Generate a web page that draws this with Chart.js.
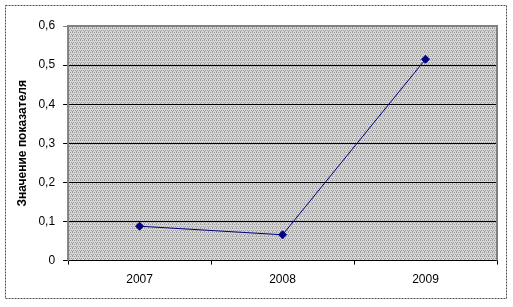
<!DOCTYPE html>
<html>
<head>
<meta charset="utf-8">
<script src="https://cdn.jsdelivr.net/npm/chart.js@4"></script>
<style>
  html, body { margin: 0; padding: 0; background: #fff; }
  #wrap { width: 513px; height: 307px; }
</style>
</head>
<body>
<div id="wrap"><canvas id="chart" width="513" height="307"></canvas></div>
<script>
/* ── data ── */
const years  = ['2007', '2008', '2009'];
const values = [0.088, 0.066, 0.515];
const yTicks = { min: 0, max: 0.6, step: 0.1 };

/* ── dotted gray fill like the Excel plot area ── */
function makePattern() {
  const c = document.createElement('canvas');
  c.width = 4; c.height = 4;
  const g = c.getContext('2d');
  g.fillStyle = '#d6d6d6';
  g.fillRect(0, 0, 4, 4);
  g.fillStyle = '#9c9c9c';
  g.fillRect(0, 0, 1, 1);
  g.fillRect(2, 0, 1, 1);
  g.fillRect(1, 2, 1, 1);
  g.fillRect(3, 2, 1, 1);
  g.fillRect(0, 3, 1, 1);
  return g.createPattern(c, 'repeat');
}

const frame = {
  id: 'frame',
  beforeDraw(chart) {
    const { ctx, chartArea: a } = chart;
    ctx.save();
    ctx.fillStyle = '#fff';
    ctx.fillRect(0, 0, chart.width, chart.height);
    ctx.strokeStyle = '#505050';
    ctx.lineWidth = 1;
    ctx.setLineDash([2, 1]);
    ctx.strokeRect(5.5, 5.5, 501, 293);
    ctx.setLineDash([]);
    ctx.fillStyle = makePattern();
    ctx.fillRect(a.left, a.top, a.right - a.left, a.bottom - a.top);
    ctx.restore();
  },
  afterDraw(chart) {
    const { ctx, chartArea: a } = chart;
    ctx.save();
    ctx.strokeStyle = '#808080';
    ctx.lineWidth = 2;
    ctx.beginPath();
    ctx.moveTo(a.left, a.bottom);
    ctx.lineTo(a.left, a.top);
    ctx.lineTo(a.right, a.top);
    ctx.lineTo(a.right, a.bottom);
    ctx.stroke();
    ctx.restore();
  }
};

Chart.defaults.font.family = "'Liberation Sans', Arial, sans-serif";
Chart.defaults.font.size = 12;
Chart.defaults.color = '#000';

new Chart(document.getElementById('chart'), {
  type: 'line',
  data: {
    labels: years,
    datasets: [{
      data: values,
      borderColor: '#000080',
      backgroundColor: '#000080',
      borderWidth: 1,
      pointStyle: 'rectRot',
      pointRadius: 4,
      pointHoverRadius: 4,
      tension: 0,
    }],
  },
  options: {
    responsive: false,
    animation: false,
    layout: { padding: { top: 26, right: 16, bottom: 12, left: 15 } },
    plugins: { legend: { display: false }, tooltip: { enabled: false } },
    scales: {
      x: {
        offset: true,
        grid: { offset: true, drawOnChartArea: false, drawTicks: true, tickLength: 4, color: '#000' },
        border: { color: '#000' },
        ticks: { padding: 8, maxRotation: 0 },
      },
      y: {
        min: yTicks.min, max: yTicks.max,
        grid: { color: ctx => ctx.tick && ctx.tick.value >= 0.6 ? '#808080' : '#000', tickLength: 5, drawTicks: true },
        border: { color: '#808080' },
        ticks: {
          stepSize: yTicks.step,
          padding: 8,
          callback: v => v === 0 ? '0' : v.toFixed(1).replace('.', ','),
        },
        title: { display: true, text: 'Значение показателя', font: { weight: 'bold', size: 12 }, padding: { top: 0, bottom: 1 } },
      },
    },
  },
  plugins: [frame],
});
</script>
</body>
</html>
